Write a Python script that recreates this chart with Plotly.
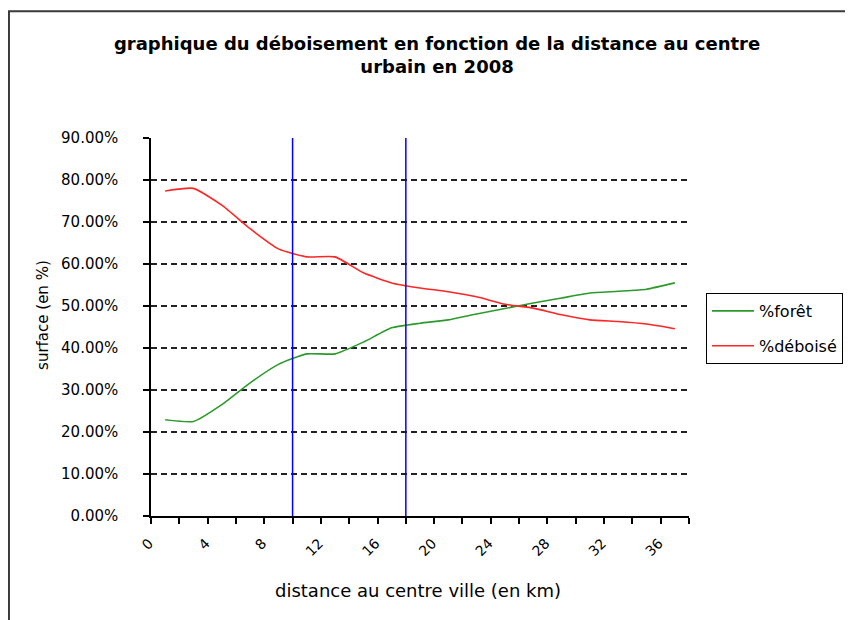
import plotly.graph_objects as go

# distance to the urban centre (km) - category values
distance = [0, 2, 4, 6, 8, 10, 12, 14, 16, 18, 20, 22, 24, 26, 28, 30, 32, 34, 36]
# % forest
foret = [0.229, 0.225, 0.265, 0.317, 0.361, 0.386, 0.386, 0.414, 0.448, 0.459,
         0.467, 0.481, 0.494, 0.507, 0.519, 0.531, 0.535, 0.540, 0.555]
# % deforested
deboise = [0.774, 0.780, 0.740, 0.684, 0.636, 0.617, 0.617, 0.579, 0.555, 0.543,
           0.534, 0.522, 0.504, 0.495, 0.479, 0.467, 0.463, 0.457, 0.446]
x_tick_labels = [0, 4, 8, 12, 16, 20, 24, 28, 32, 36]
y_ticks = [0, 0.1, 0.2, 0.3, 0.4, 0.5, 0.6, 0.7, 0.8, 0.9]
limits_km = [9, 17]  # blue separators (between categories)

FONT = "DejaVu Sans"

fig = go.Figure()
fig.add_trace(go.Scatter(x=distance, y=foret, mode="lines", name="%forêt",
                         line=dict(color="#2b9a2b", width=1.6, shape="spline", smoothing=0.5),
                         legendgroup="a"))
fig.add_trace(go.Scatter(x=distance, y=deboise, mode="lines", name="%déboisé",
                         line=dict(color="#ff2626", width=1.6, shape="spline", smoothing=0.5),
                         legendgroup="b"))

for xv in limits_km:
    fig.add_shape(type="line", xref="x", yref="paper", x0=xv, x1=xv, y0=0, y1=1,
                  line=dict(color="#0000ff", width=1.5))

# outer chart border
fig.add_shape(type="rect", xref="paper", yref="paper",
              x0=-0.2640, x1=2.0, y0=-1.0, y1=1.335,
              line=dict(color="#3a3a3a", width=2), layer="below")

fig.update_layout(
    width=853, height=620,
    margin=dict(l=143, r=172, t=130, b=112, autoexpand=False),
    paper_bgcolor="white", plot_bgcolor="white",
    font=dict(family=FONT, size=15, color="black"),
    title=dict(text="<b>graphique du déboisement en fonction de la distance au centre<br>urbain en 2008</b>",
               x=0.503, xref="container", xanchor="center",
               y=0.933, yref="container", yanchor="top",
               font=dict(family=FONT, size=18, color="black")),
    showlegend=True,
    legend=dict(x=1.0316, xanchor="left", y=0.59, yanchor="top",
                bordercolor="black", borderwidth=1, bgcolor="white",
                itemwidth=42, tracegroupgap=11,
                font=dict(family=FONT, size=16)),
    xaxis=dict(range=[-1, 37], tickmode="array", tickvals=x_tick_labels,
               ticktext=[str(v) for v in x_tick_labels], ticks="", tickangle=-45,
               ticklabelshift=-16, ticklabelstandoff=12,
               showgrid=False, zeroline=False, showline=True, linecolor="black", linewidth=1.5,
               tickfont=dict(family=FONT, size=14),
               minor=dict(tickmode="linear", tick0=-1, dtick=2, ticks="outside", ticklen=6,
                          tickcolor="black", tickwidth=1.5, showgrid=False)),
    yaxis=dict(range=[0, 0.9], tickmode="array", tickvals=y_ticks, tickformat=".2%",
               ticks="outside", ticklen=6, tickcolor="black", tickwidth=1.5,
               showline=True, linecolor="black", linewidth=1.5, zeroline=False,
               showgrid=True, gridcolor="#222222", gridwidth=1.5, griddash="6px,4px",
               ticklabelstandoff=22,
               tickfont=dict(family=FONT, size=15)),
)

fig.add_annotation(text="surface (en %)", xref="paper", yref="paper",
                   x=-0.2007, y=0.532, xanchor="center", yanchor="middle",
                   textangle=-90, showarrow=False,
                   font=dict(family=FONT, size=15))
fig.add_annotation(text="distance au centre ville (en km)", xref="paper", yref="paper",
                   x=0.496, y=-0.196, xanchor="center", yanchor="middle", showarrow=False,
                   font=dict(family=FONT, size=18))

fig.write_html("out.html")
